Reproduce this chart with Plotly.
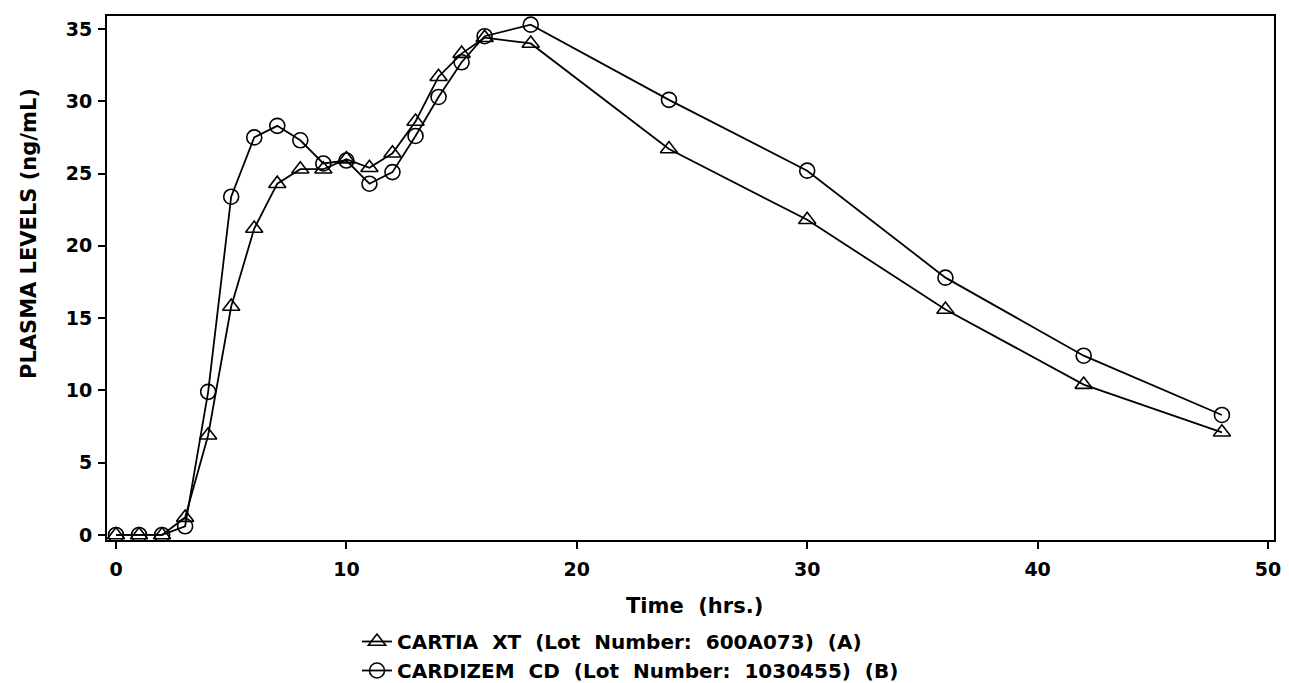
import plotly.graph_objects as go

time_hrs = [0, 1, 2, 3, 4, 5, 6, 7, 8, 9, 10, 11, 12, 13, 14, 15, 16, 18, 24, 30, 36, 42, 48]
cartia_xt = [0, 0, 0, 1.2, 6.9, 15.8, 21.2, 24.3, 25.3, 25.3, 26.0, 25.4, 26.4, 28.6, 31.7, 33.3,
             34.4, 34.0, 26.7, 21.8, 15.6, 10.4, 7.1]
cardizem_cd = [0, 0, 0, 0.6, 9.9, 23.4, 27.5, 28.3, 27.3, 25.7, 25.9, 24.3, 25.1, 27.6, 30.3, 32.7,
               34.5, 35.3, 30.1, 25.2, 17.8, 12.4, 8.3]
NB = "\u00a0"
name_a = f"CARTIA{NB} XT{NB} (Lot{NB} Number:{NB} 600A073){NB} (A)"
name_b = f"CARDIZEM{NB} CD{NB} (Lot{NB} Number:{NB} 1030455){NB} (B)"
x_ticks = [0, 10, 20, 30, 40, 50]
y_ticks = [0, 5, 10, 15, 20, 25, 30, 35]

FONT = "DejaVu Sans, Liberation Sans, Arial, sans-serif"
OFF = 8  # page body offset
W, H = 1289 - OFF, 683 - OFF
L, R, T, B = 107 - OFF, 15, 16 - OFF, 143
PW, PH = W - L - R, H - T - B


def px_x(x):  # screenshot x -> paper
    return (x - OFF - L) / PW


def px_y(y):  # screenshot y -> paper
    return (H - B - (y - OFF)) / PH


fig = go.Figure()
fig.add_trace(go.Scatter(
    x=time_hrs, y=cartia_xt, name=name_a, mode="lines+markers",
    line=dict(color="black", width=1.8),
    marker=dict(symbol="triangle-up-open", size=15, color="black", line=dict(width=1.6, color="black")),
))
fig.add_trace(go.Scatter(
    x=time_hrs, y=cardizem_cd, name=name_b, mode="lines+markers",
    line=dict(color="black", width=1.8),
    marker=dict(symbol="circle-open", size=15, color="black", line=dict(width=1.6, color="black")),
))

fig.update_layout(
    width=W, height=H,
    margin=dict(l=L, r=R, t=T, b=B, autoexpand=False),
    paper_bgcolor="white", plot_bgcolor="white",
    font=dict(family=FONT, color="black", size=18, weight="bold"),
    showlegend=True,
    legend=dict(
        xref="container", yref="container",
        x=(397 - OFF - 40) / W, xanchor="left",
        y=1 - (622 - OFF) / H, yanchor="top",
        font=dict(family=FONT, size=20, color="black", weight="bold"),
        bgcolor="rgba(0,0,0,0)", tracegroupgap=0,
    ),
    xaxis=dict(
        range=[-0.39, 50.26], tickmode="array", tickvals=x_ticks,
        ticks="outside", ticklen=7, tickwidth=1.5, tickcolor="black",
        ticklabelstandoff=4,
        showline=True, linecolor="black", linewidth=2, mirror=True,
        showgrid=False, zeroline=False, automargin=False,
        tickfont=dict(family=FONT, size=19, color="black", weight="bold"),
    ),
    yaxis=dict(
        range=[-0.35, 35.9], tickmode="array", tickvals=y_ticks,
        ticks="outside", ticklen=7, tickwidth=1.5, tickcolor="black",
        ticklabelstandoff=2,
        showline=True, linecolor="black", linewidth=2, mirror=True,
        showgrid=False, zeroline=False, automargin=False,
        tickfont=dict(family=FONT, size=19, color="black", weight="bold"),
    ),
    annotations=[
        dict(text=f"Time{NB} (hrs.)", xref="paper", yref="paper",
             x=px_x(694), y=px_y(606), xanchor="center", yanchor="middle",
             showarrow=False, font=dict(family=FONT, size=21, color="black", weight="bold")),
        dict(text="PLASMA LEVELS (ng/mL)", xref="paper", yref="paper",
             x=px_x(29), y=px_y(234), xanchor="center", yanchor="middle",
             textangle=-90, showarrow=False,
             font=dict(family=FONT, size=21, color="black", weight="bold")),
    ],
)

fig.write_html("out.html")
